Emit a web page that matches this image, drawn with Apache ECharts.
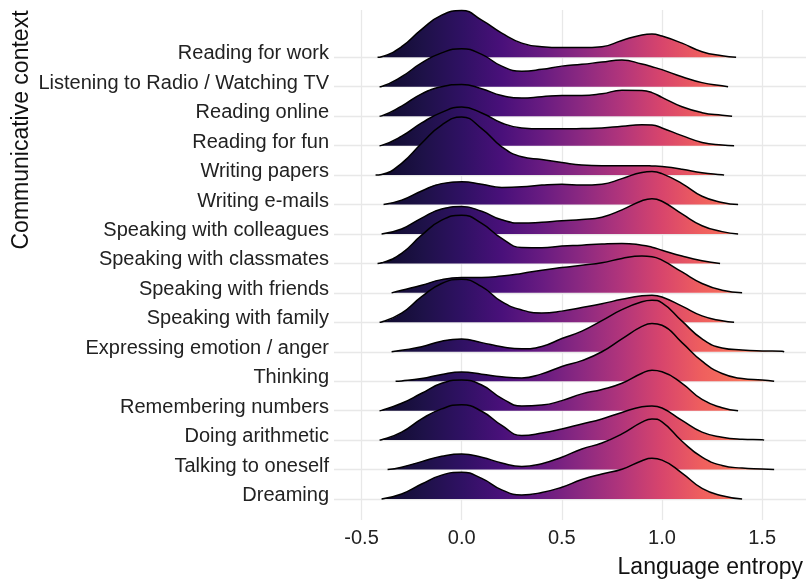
<!DOCTYPE html>
<html>
<head>
<meta charset="utf-8">
<script src="https://cdn.jsdelivr.net/npm/echarts@6/dist/echarts.min.js"></script>
<style>
  html, body { margin: 0; padding: 0; background: #ffffff; }
  #chart { width: 806px; height: 587px; }
</style>
</head>
<body>
<div id="chart"></div>
<script>
// Communicative contexts, bottom row first
const contexts = [
  'Dreaming',
  'Talking to oneself',
  'Doing arithmetic',
  'Remembering numbers',
  'Thinking',
  'Expressing emotion / anger',
  'Speaking with family',
  'Speaking with friends',
  'Speaking with classmates',
  'Speaking with colleagues',
  'Writing e-mails',
  'Writing papers',
  'Reading for fun',
  'Reading online',
  'Listening to Radio / Watching TV',
  'Reading for work'
];

// Language entropy values at which each ridge height is given
const entropyGrid = [-0.4, -0.3, -0.2, -0.1, 0.0, 0.1, 0.2, 0.3, 0.4, 0.5, 0.6, 0.7,
                     0.8, 0.9, 0.95, 1.0, 1.1, 1.2, 1.3, 1.4, 1.5, 1.6];
const entropyTicks = [-0.5, 0.0, 0.5, 1.0, 1.5];

// Ridge heights (in row units) on entropyGrid; null where the ridge has ended
const dreaming            = [null, 0.17, 0.51, 0.81, 0.91, 0.70, 0.31, 0.14, 0.22, 0.40, 0.66, 0.85, 1.01, 1.30, 1.38, 1.32, 0.88, 0.36, 0.11, null, null, null];
const talkingToOneself    = [null, 0.08, 0.27, 0.45, 0.53, 0.42, 0.22, 0.10, 0.20, 0.42, 0.70, 0.90, 1.21, 1.61, 1.72, 1.62, 0.96, 0.42, 0.14, 0.05, 0.02, null];
const doingArithmetic     = [0.01, 0.27, 0.72, 1.06, 1.20, 0.98, 0.50, 0.16, 0.24, 0.38, 0.55, 0.72, 0.94, 1.13, 1.16, 1.09, 0.67, 0.27, 0.10, 0.03, 0.01, null];
const rememberingNumbers  = [0.01, 0.25, 0.59, 0.93, 1.04, 0.87, 0.42, 0.16, 0.19, 0.34, 0.57, 0.72, 0.93, 1.27, 1.37, 1.32, 0.93, 0.38, 0.10, null, null, null];
const thinking            = [null, 0.01, 0.09, 0.23, 0.31, 0.24, 0.15, 0.11, 0.25, 0.50, 0.70, 1.00, 1.44, 1.86, 1.96, 1.90, 1.31, 0.68, 0.26, 0.09, 0.04, null];
const expressingEmotion   = [null, 0.05, 0.17, 0.36, 0.43, 0.31, 0.17, 0.10, 0.18, 0.45, 0.70, 1.06, 1.43, 1.70, 1.75, 1.66, 1.04, 0.44, 0.13, 0.06, 0.03, 0.02];
const speakingFamily      = [0.01, 0.31, 0.87, 1.32, 1.46, 1.21, 0.70, 0.42, 0.32, 0.38, 0.50, 0.63, 0.78, 0.90, 0.92, 0.86, 0.55, 0.22, 0.05, null, null, null];
const speakingFriends     = [null, 0.09, 0.26, 0.45, 0.52, 0.52, 0.57, 0.66, 0.77, 0.86, 0.94, 1.02, 1.17, 1.25, 1.23, 1.11, 0.71, 0.32, 0.09, null, null, null];
const speakingClassmates  = [0.02, 0.34, 0.96, 1.47, 1.64, 1.36, 0.85, 0.54, 0.53, 0.59, 0.62, 0.66, 0.68, 0.62, 0.55, 0.45, 0.25, 0.09, null, null, null, null];
const speakingColleagues  = [null, 0.17, 0.54, 0.85, 0.93, 0.77, 0.48, 0.37, 0.40, 0.45, 0.49, 0.57, 0.82, 1.13, 1.20, 1.11, 0.68, 0.28, 0.08, null, null, null];
const writingEmails       = [null, 0.15, 0.46, 0.71, 0.77, 0.69, 0.58, 0.60, 0.66, 0.69, 0.66, 0.69, 0.88, 1.09, 1.12, 1.05, 0.71, 0.28, 0.07, null, null, null];
const writingPapers       = [0.02, 0.40, 1.08, 1.70, 1.97, 1.58, 0.96, 0.62, 0.53, 0.43, 0.34, 0.32, 0.32, 0.32, 0.31, 0.29, 0.20, 0.08, 0.01, null, null, null];
const readingForFun       = [0.01, 0.32, 0.77, 1.13, 1.31, 1.11, 0.77, 0.60, 0.57, 0.57, 0.58, 0.60, 0.66, 0.71, 0.70, 0.60, 0.34, 0.11, 0.02, null, null, null];
const readingOnline       = [0.01, 0.34, 0.76, 1.00, 1.08, 0.93, 0.70, 0.62, 0.66, 0.70, 0.70, 0.76, 0.88, 0.87, 0.80, 0.64, 0.32, 0.12, 0.03, null, null, null];
const listeningRadioTV    = [0.01, 0.34, 0.81, 1.15, 1.29, 1.10, 0.70, 0.53, 0.59, 0.70, 0.76, 0.84, 0.91, 0.77, 0.68, 0.58, 0.34, 0.14, 0.03, null, null, null];
const readingForWork      = [0.02, 0.36, 0.95, 1.43, 1.59, 1.26, 0.82, 0.48, 0.36, 0.33, 0.33, 0.36, 0.57, 0.76, 0.79, 0.72, 0.48, 0.19, 0.05, null, null, null];

// Where each ridge starts and ends on the entropy axis
const ridgeRanges = [
  [-0.40, 1.40], [-0.37, 1.56], [-0.41, 1.51], [-0.41, 1.38],
  [-0.33, 1.56], [-0.35, 1.61], [-0.41, 1.36], [-0.35, 1.40],
  [-0.42, 1.29], [-0.40, 1.38], [-0.39, 1.38], [-0.43, 1.31],
  [-0.41, 1.36], [-0.41, 1.35], [-0.41, 1.33], [-0.42, 1.37]
];

const ridgeHeights = [
  dreaming, talkingToOneself, doingArithmetic, rememberingNumbers,
  thinking, expressingEmotion, speakingFamily, speakingFriends,
  speakingClassmates, speakingColleagues, writingEmails, writingPapers,
  readingForFun, readingOnline, listeningRadioTV, readingForWork
];

// Fill colour ramp along the entropy axis
const fillStopX = [-0.42, -0.2, 0.0, 0.2, 0.4, 0.6, 0.8, 1.0, 1.2, 1.4, 1.6];
const fillStopColor = ['#0d0a29', '#1d1147', '#2f1163', '#49107a', '#681b81',
                       '#8c2981', '#b2357b', '#d8456c', '#ef5f5e', '#f8745c', '#fb8560'];

const FONT = '"Liberation Sans", Arial, Helvetica, sans-serif';

function ridgePoints(i) {
  const lo = ridgeRanges[i][0], hi = ridgeRanges[i][1];
  const h = ridgeHeights[i];
  const pts = [[lo, i]];
  entropyGrid.forEach(function (x, k) {
    if (x > lo && x < hi && h[k] != null) pts.push([x, i + h[k]]);
  });
  pts.push([hi, i]);
  return pts;
}

const chart = echarts.init(document.getElementById('chart'), null, { renderer: 'canvas' });

function buildSeries(fill) {
  const list = [];
  // top row first, so rows further down overlap the ones above
  for (let i = contexts.length - 1; i >= 0; i--) {
    list.push({
      name: contexts[i],
      type: 'line',
      data: ridgePoints(i),
      smooth: 0.5,
      symbol: 'none',
      showSymbol: false,
      clip: false,
      silent: true,
      lineStyle: { color: '#000000', width: 1.5 },
      areaStyle: { origin: i, color: fill, opacity: 1 }
    });
  }
  return list;
}

const rowTicks = contexts.map(function (_, i) { return i; });

const option = {
  animation: false,
  backgroundColor: '#ffffff',
  grid: { left: 334, right: 0, top: 10, bottom: 67 },
  xAxis: {
    type: 'value',
    min: -0.6375,
    max: 1.719,
    axisLine: { show: false },
    axisTick: { show: false, customValues: entropyTicks },
    axisLabel: {
      customValues: entropyTicks,
      formatter: function (v) { return v.toFixed(1); },
      fontFamily: FONT,
      fontSize: 20,
      color: '#222222',
      margin: 8
    },
    splitLine: { show: true, lineStyle: { color: '#e8e8e8', width: 1.3 } }
  },
  yAxis: {
    type: 'value',
    min: -0.713,
    max: 16.606,
    axisLine: { show: false },
    axisTick: { show: false, customValues: rowTicks },
    axisLabel: {
      customValues: rowTicks,
      formatter: function (v) { return contexts[Math.round(v)]; },
      fontFamily: FONT,
      fontSize: 20,
      color: '#222222',
      margin: 5,
      verticalAlign: 'bottom',
      lineHeight: 7
    },
    splitLine: { show: true, lineStyle: { color: '#e8e8e8', width: 1.3 } }
  },
  graphic: [
    {
      type: 'text',
      x: 22,
      y: 130,
      rotation: Math.PI / 2,
      style: {
        text: 'Communicative context',
        font: '23px ' + FONT,
        fill: '#111111',
        align: 'center',
        verticalAlign: 'middle',
        textAlign: 'center',
        textVerticalAlign: 'middle'
      }
    },
    {
      type: 'text',
      x: 803,
      y: 568,
      style: {
        text: 'Language entropy',
        font: '23px ' + FONT,
        fill: '#111111',
        align: 'right',
        verticalAlign: 'middle',
        textAlign: 'right',
        textVerticalAlign: 'middle'
      }
    }
  ],
  series: buildSeries('#5a167e')
};

chart.setOption(option);

// Horizontal colour ramp in pixel space, tied to the x scale
const px0 = chart.convertToPixel({ xAxisIndex: 0 }, fillStopX[0]);
const px1 = chart.convertToPixel({ xAxisIndex: 0 }, fillStopX[fillStopX.length - 1]);
const span = fillStopX[fillStopX.length - 1] - fillStopX[0];
const gradient = new echarts.graphic.LinearGradient(px0, 0, px1, 0,
  fillStopX.map(function (x, k) {
    return { offset: (x - fillStopX[0]) / span, color: fillStopColor[k] };
  }), true);

chart.setOption({ series: buildSeries(gradient) });
</script>
</body>
</html>
